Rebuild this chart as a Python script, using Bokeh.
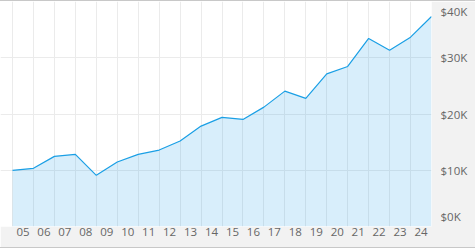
from bokeh.plotting import figure
from bokeh.models import FixedTicker, LinearAxis, Range1d
from bokeh.embed import file_html
from bokeh.resources import INLINE

# ---- data ----
years = [2005, 2006, 2007, 2008, 2009, 2010, 2011, 2012, 2013, 2014, 2015,
         2016, 2017, 2018, 2019, 2020, 2021, 2022, 2023, 2024, 2025]
values = [9980, 10340, 12470, 12820, 9090, 11460, 12820, 13590, 15190, 17850, 19400,
          19040, 21220, 24070, 22770, 27140, 28450, 33430, 31350, 33660, 37340]
x_labels = ["05", "06", "07", "08", "09", "10", "11", "12", "13", "14",
            "15", "16", "17", "18", "19", "20", "21", "22", "23", "24"]
y_ticks = [0, 10000, 20000, 30000, 40000]
y_labels = ["$0K", "$10K", "$20K", "$30K", "$40K"]

W, H = 475, 248
RIGHT, BOTTOM = 44, 23
frame_w = W - RIGHT
frame_h = H - BOTTOM
px_per_year = 20.95
x_end = years[-1]
x_start = x_end - frame_w / px_per_year
y_start, y_end = 0, 40000

p = figure(width=W, height=H, output_backend="svg", toolbar_location=None,
           x_range=Range1d(x_start, x_end), y_range=Range1d(y_start, y_end),
           min_border_left=0, min_border_top=0, min_border_right=RIGHT,
           min_border_bottom=BOTTOM, x_axis_location=None, y_axis_location=None)
p.styles = {"border-top": "1px solid #c8c8c8", "border-bottom": "1px solid #c8c8c8"}
p.background_fill_color = "white"
p.border_fill_color = "#f2f2f2"
p.outline_line_color = None

# grids
p.xgrid.ticker = FixedTicker(ticks=years)
p.ygrid.ticker = FixedTicker(ticks=y_ticks)
for g in (p.xgrid, p.ygrid):
    g.grid_line_color = "#ebebeb"
    g.grid_line_width = 1

# area + line
p.varea(x=years, y1=[0] * len(years), y2=values, fill_color="#1a9de6", fill_alpha=0.17)
p.line(x=years, y=values, line_color="#1a9fe5", line_width=1.2)

# x axis: labels centered between year boundaries
xt = [y + 0.5 for y in years[:-1]]
xaxis = LinearAxis(ticker=FixedTicker(ticks=xt),
                   major_label_overrides={t: l for t, l in zip(xt, x_labels)})
# y axis: end labels nudged inward so they stay inside the panel
nudge = 10 * (y_end - y_start) / frame_h
ypos = [v + (nudge if v == y_start else -nudge if v == y_end else 0) for v in y_ticks]
yaxis = LinearAxis(ticker=FixedTicker(ticks=ypos),
                   major_label_overrides={t: l for t, l in zip(ypos, y_labels)})
for ax in (xaxis, yaxis):
    ax.axis_line_color = None
    ax.major_tick_line_color = None
    ax.minor_tick_line_color = None
    ax.major_tick_in = 0
    ax.major_tick_out = 0
    ax.major_label_text_font = "Open Sans"
    ax.major_label_text_font_size = "11.5px"
    ax.major_label_text_color = "#666666"
xaxis.major_label_standoff = 1
yaxis.major_label_standoff = 9
p.add_layout(xaxis, "below")
p.add_layout(yaxis, "right")

open("out.html", "w").write(file_html(p, INLINE))
